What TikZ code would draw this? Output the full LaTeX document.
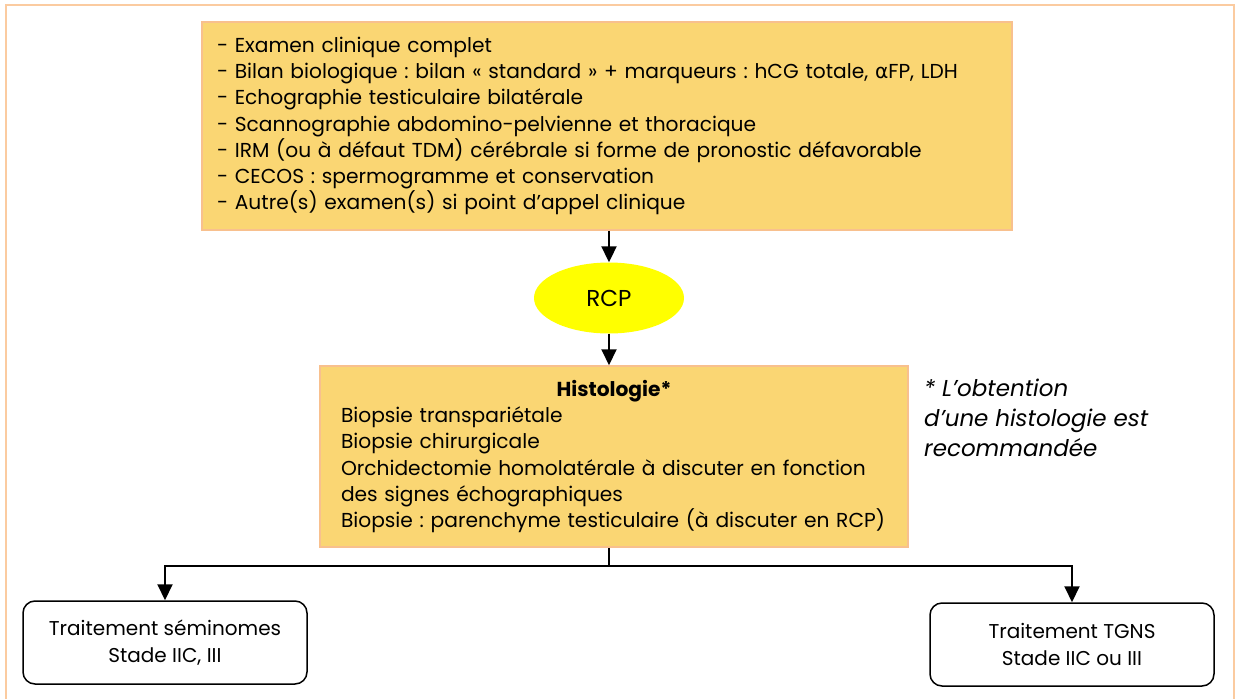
\documentclass[tikz,border=0pt]{standalone}
\usepackage{fontspec}
\setmainfont{Poppins}
\newfontfamily\grk{DejaVu Sans}
\usetikzlibrary{arrows.meta,shapes.geometric}
\frenchspacing
\definecolor{framec}{HTML}{FBCBA0}
\definecolor{boxfill}{HTML}{FAD673}
\definecolor{boxline}{HTML}{F8C08E}
\definecolor{rcpfill}{HTML}{FFFF00}
\tikzset{
  orangebox/.style={draw=boxline, line width=1.5pt, fill=boxfill, align=left, inner sep=0pt,
    font=\fontsize{20.2}{26.3}\selectfont},
  treatbox/.style={draw=black, line width=1.5pt, rounded corners=12pt, fill=white, align=center,
    minimum width=284pt, minimum height=83pt, inner sep=0pt, font=\fontsize{20}{26.3}\selectfont},
  arr/.style={line width=2pt, -{Triangle[width=15pt,length=16pt]}},
  plain/.style={line width=2pt}
}
\begin{document}
\begin{tikzpicture}[x=1pt,y=-1pt]
\useasboundingbox (0,0) rectangle (1235,699);
\draw[framec, line width=2pt] (6,710) -- (6,5) -- (1234,5) -- (1234,710);
\node[orangebox, minimum width=810pt, minimum height=208pt, text width=780pt] (top) at (607,126)
{- Examen clinique complet\\
- Bilan biologique : bilan « standard » + marqueurs : hCG totale, {\grk α}FP, LDH\\
- Echographie testiculaire bilatérale\\
- Scannographie abdomino-pelvienne et thoracique\\
- IRM (ou à défaut TDM) cérébrale si forme de pronostic défavorable\\
- CECOS : spermogramme et conservation\\
- Autre(s) examen(s) si point d’appel clinique};
\node[ellipse, fill=rcpfill, minimum width=150pt, minimum height=71pt, inner sep=0pt,
  font=\fontsize{23}{26}\selectfont] (rcp) at (609,298) {RCP};
\node[orangebox, minimum width=588pt, minimum height=181pt, text width=546pt] (histo) at (614,456.5)
{\makebox[\linewidth]{\bfseries Histologie*}\\
Biopsie transpariétale\\
Biopsie chirurgicale\\
Orchidectomie homolatérale à discuter en fonction\\
des signes échographiques\\
\makebox[\linewidth][l]{Biopsie : parenchyme testiculaire (à discuter en RCP)}};
\node[anchor=north west, align=left, inner sep=0pt, font=\fontsize{23}{30}\itshape\selectfont] (note) at (924,379)
{* L’obtention\\ d’une histologie est\\ recommandée};
\node[treatbox] (sem) at (165,642.5) {Traitement séminomes\\Stade IIC, III};
\node[treatbox] (tgns) at (1072,644.5) {Traitement TGNS\\Stade IIC ou III};
\coordinate (split) at (609,566);
\draw[arr] (top.south -| rcp) -- (rcp.north);
\draw[arr] (rcp.south) -- (rcp.south |- histo.north);
\draw[plain] (histo.south -| split) -- (split);
\draw[arr] (split) -| (sem.north);
\draw[arr] (split) -| (tgns.north);
\end{tikzpicture}
\end{document}
